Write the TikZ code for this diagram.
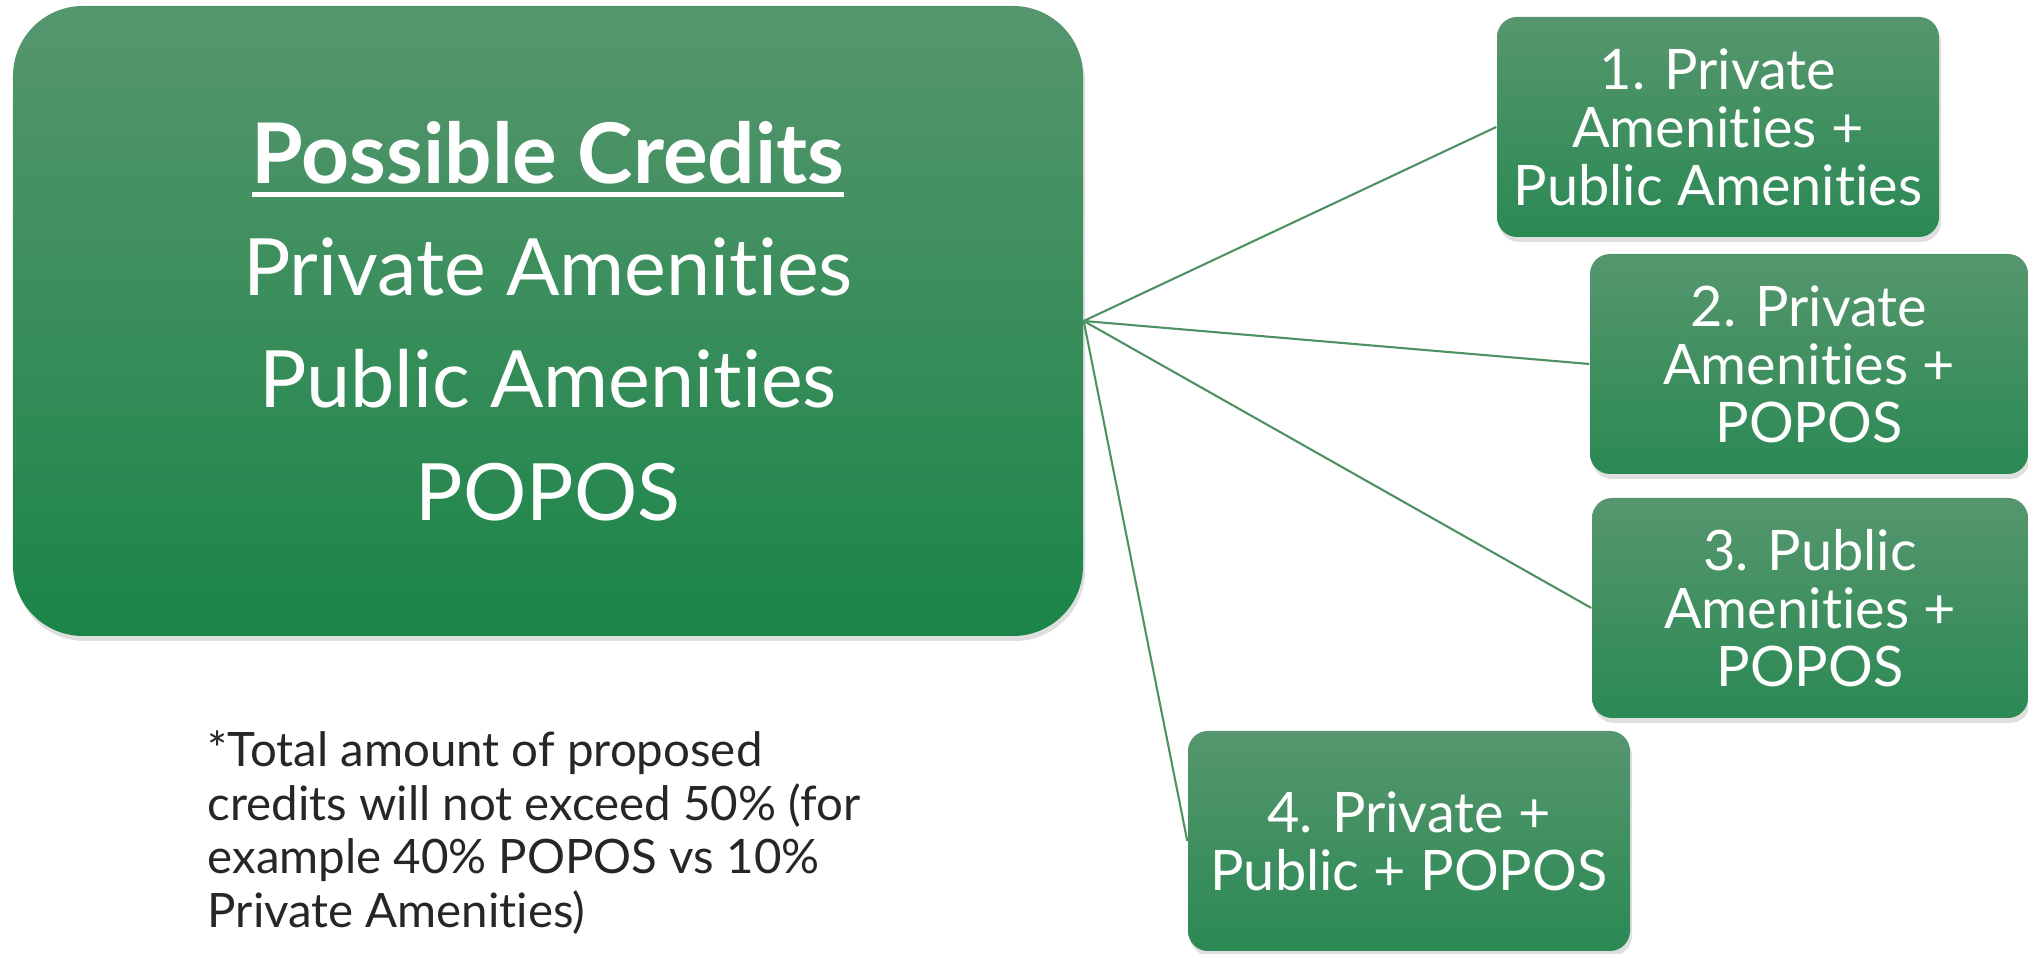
\documentclass[tikz,border=0pt]{standalone}
\usepackage{fontspec}
\setmainfont{Lato}[Ligatures={NoCommon,NoRequired,NoContextual}]
\usetikzlibrary{shadows}
\definecolor{BoxTop}{RGB}{86,150,110}
\definecolor{BoxGreen}{RGB}{27,133,72}
\definecolor{OptGreen}{RGB}{42,137,84}
\definecolor{LinkGreen}{RGB}{78,146,100}
\definecolor{NoteGray}{RGB}{38,38,38}
\newcommand{\thickul}[1]{\setbox0\hbox{#1}\rlap{\rule[-4pt]{\wd0}{1.4pt}}\box0}

\begin{document}
\begin{tikzpicture}[
  box/.style={rounded corners=0.2cm, text=white, align=center, inner sep=0pt,
    top color=BoxTop, middle color=OptGreen, bottom color=OptGreen,
    drop shadow={opacity=0.25, shadow xshift=0.02cm, shadow yshift=-0.05cm}},
  option/.style={box, minimum width=4.42cm, minimum height=2.2cm,
    font=\fontsize{15.9}{16.5}\selectfont},
  link/.style={LinkGreen, line width=0.6pt}]
\useasboundingbox (0,0) rectangle (20.28,-9.54);
% main box
\node[box, rounded corners=0.7cm, middle color=BoxGreen, bottom color=BoxGreen,
  minimum width=10.7cm, minimum height=6.3cm, font=\fontsize{22.5}{32}\selectfont]
  (credits) at (5.48,-3.21)
  {\thickul{\fontsize{23.8}{32}\selectfont\bfseries Possible Credits}\\Private Amenities\\Public Amenities\\POPOS};
% the four options
\node[option] (opt1) at (17.18,-1.27) {1. Private\\Amenities +\\Public Amenities};
\node[option, minimum width=4.38cm] (opt2) at (18.09,-3.64) {2. Private\\Amenities +\\POPOS};
\node[option, minimum width=4.36cm] (opt3) at (18.10,-6.08) {3. Public\\Amenities +\\POPOS};
\node[option] (opt4) at (14.09,-8.41) {4. Private +\\Public + POPOS};
\foreach \i in {1,...,4}
  \draw[link] (credits.east) -- (opt\i.west);
% footnote
\node[anchor=north west, align=left, inner sep=0pt, text=NoteGray,
  font=\fontsize{13.5}{15.3}\selectfont] (note) at (2.07,-7.30)
  {*Total amount of proposed\\credits will not exceed 50\% (for\\example 40\% POPOS vs 10\%\\Private Amenities)};
\end{tikzpicture}
\end{document}
